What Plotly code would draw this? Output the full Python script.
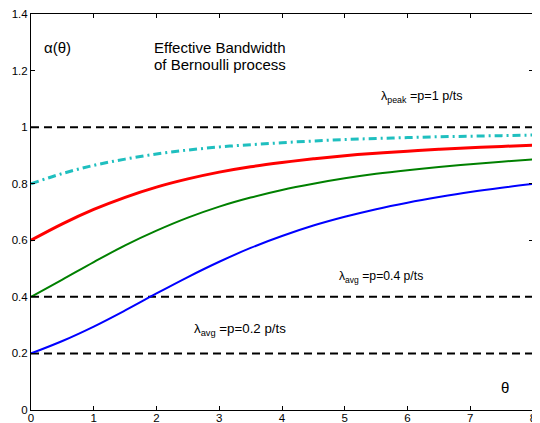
import plotly.graph_objects as go

theta = [0, 0.5, 1, 1.5, 2, 2.5, 3, 3.5, 4, 4.5, 5, 5.5, 6, 6.5, 7, 7.5, 8]
alpha_p02 = [0.200, 0.244, 0.295, 0.352, 0.412, 0.470, 0.524, 0.573, 0.615, 0.652, 0.683, 0.710, 0.733, 0.753, 0.771, 0.786, 0.799]
alpha_p04 = [0.400, 0.461, 0.523, 0.582, 0.634, 0.680, 0.719, 0.751, 0.778, 0.800, 0.819, 0.835, 0.848, 0.859, 0.869, 0.878, 0.886]
alpha_p06 = [0.600, 0.658, 0.709, 0.752, 0.788, 0.817, 0.841, 0.860, 0.875, 0.888, 0.899, 0.908, 0.915, 0.922, 0.927, 0.932, 0.936]
alpha_p08 = [0.800, 0.836, 0.865, 0.887, 0.905, 0.919, 0.930, 0.938, 0.945, 0.951, 0.956, 0.960, 0.963, 0.966, 0.968, 0.970, 0.972]
hline_levels = [1.0, 0.4, 0.2]
x_range = [0, 8]

fig = go.Figure()

for lvl in hline_levels:
    fig.add_trace(go.Scatter(x=x_range, y=[lvl, lvl], mode="lines",
                             line=dict(color="black", width=2, dash="8px,5px"),
                             showlegend=False, hoverinfo="skip"))

fig.add_trace(go.Scatter(x=theta, y=alpha_p08, mode="lines", line_shape="spline",
                         line=dict(color="#1fbfbf", width=3, dash="8px,4px,2px,4px"), showlegend=False))
fig.add_trace(go.Scatter(x=theta, y=alpha_p06, mode="lines", line_shape="spline",
                         line=dict(color="#ff0000", width=3), showlegend=False))
fig.add_trace(go.Scatter(x=theta, y=alpha_p04, mode="lines", line_shape="spline",
                         line=dict(color="#008000", width=2), showlegend=False))
fig.add_trace(go.Scatter(x=theta, y=alpha_p02, mode="lines", line_shape="spline",
                         line=dict(color="#0000ff", width=2), showlegend=False))

font = "Liberation Sans, Arial, sans-serif"
ann = [
    dict(x=0.43, y=1.28, text="α(θ)", size=15, xanchor="center"),
    dict(x=1.93, y=1.283, text="Effective Bandwidth", size=15, xanchor="left"),
    dict(x=1.93, y=1.222, text="of Bernoulli process", size=15, xanchor="left"),
    dict(x=6.23, y=1.106, text="λ<sub>peak</sub> =p=1 p/ts", size=12.6, xanchor="center"),
    dict(x=5.58, y=0.47, text="λ<sub>avg</sub> =p=0.4 p/ts", size=12.2, xanchor="center"),
    dict(x=3.33, y=0.283, text="λ<sub>avg</sub> =p=0.2 p/ts", size=13.3, xanchor="center"),
    dict(x=7.55, y=0.078, text="θ", size=15, xanchor="center"),
]
for a in ann:
    fig.add_annotation(x=a["x"], y=a["y"], text=a["text"], showarrow=False,
                       xanchor=a["xanchor"], yanchor="middle",
                       font=dict(family=font, size=a["size"], color="black"))

axis_common = dict(showgrid=False, zeroline=False, showline=True, linecolor="black",
                   linewidth=1, mirror="allticks", ticks="inside", ticklen=4,
                   tickcolor="black", automargin=False,
                   tickfont=dict(family=font, size=11.5, color="black"))
fig.update_xaxes(range=[0, 8], tickvals=[0, 1, 2, 3, 4, 5, 6, 7, 8],
                 ticklabelstandoff=-3, **axis_common)
fig.update_yaxes(range=[0, 1.4], tickvals=[0, 0.2, 0.4, 0.6, 0.8, 1, 1.2, 1.4],
                 ticktext=["0", "0.2", "0.4", "0.6", "0.8", "1", "1.2", "1.4"], **axis_common)

# page body has an 8px default margin, so the figure is sized to fit the window
fig.update_layout(width=532, height=415, margin=dict(l=23, r=7, t=6, b=13),
                  plot_bgcolor="white", paper_bgcolor="white")

fig.write_html("out.html")
